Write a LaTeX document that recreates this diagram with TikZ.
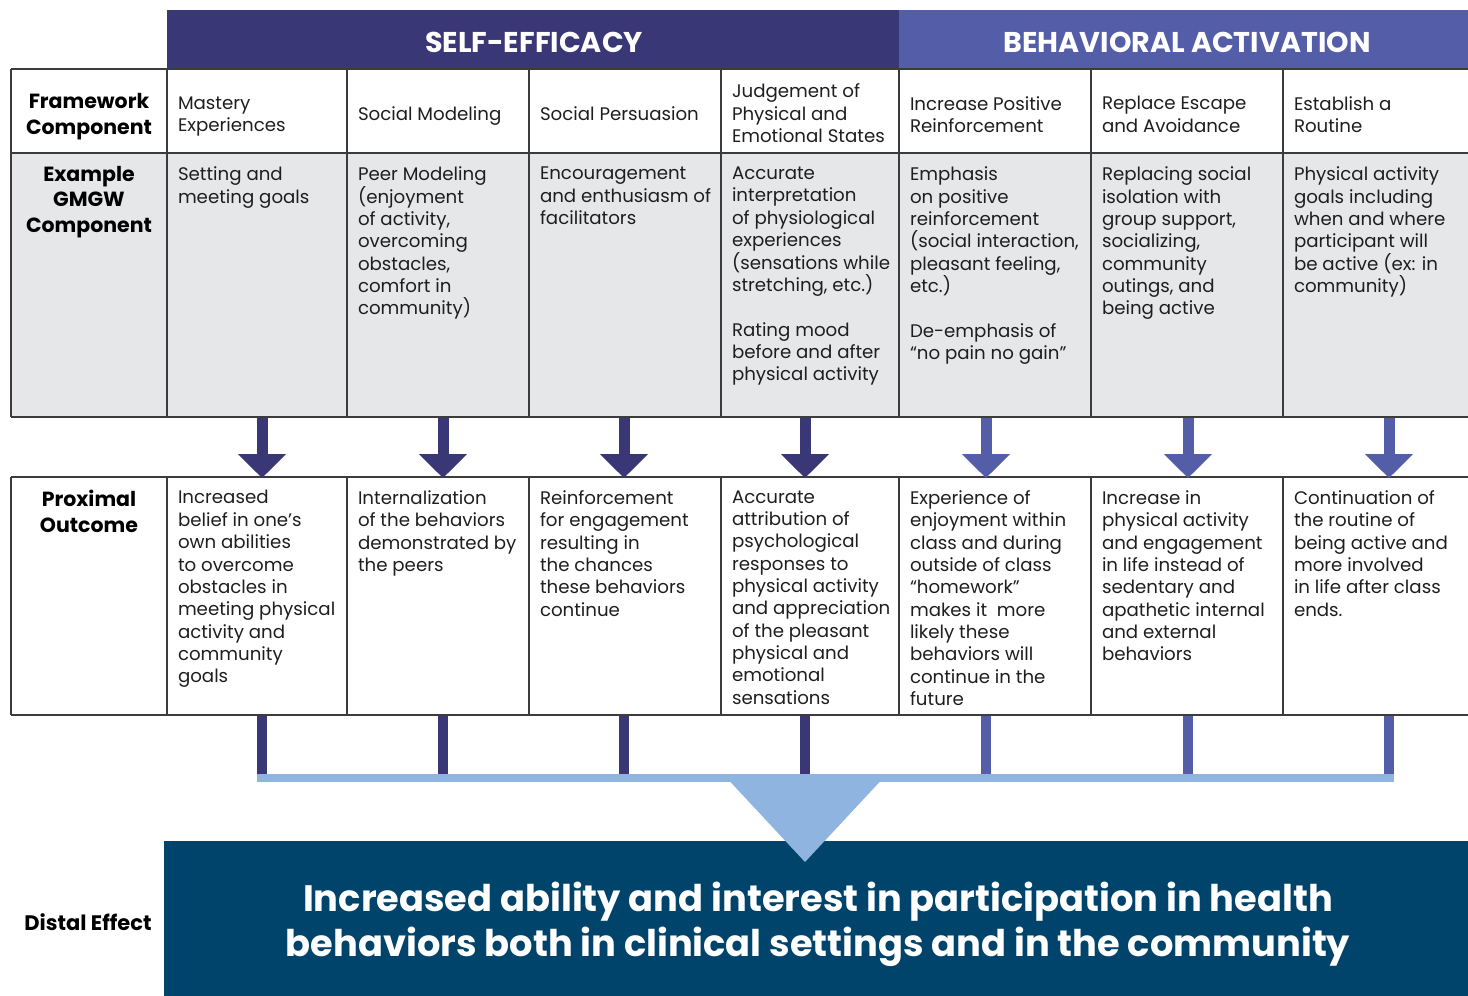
\documentclass[tikz,border=0pt]{standalone}
\usepackage{fontspec}
\setmainfont{Poppins}
\usetikzlibrary{arrows.meta}

\definecolor{sedark}{HTML}{3A3776}
\definecolor{bamid}{HTML}{535DA8}
\definecolor{cellgray}{HTML}{E6E7E8}
\definecolor{rulegray}{HTML}{3C3C3C}
\definecolor{barblue}{HTML}{8FB4E0}
\definecolor{distalnavy}{HTML}{00446B}
\definecolor{inktext}{HTML}{1E1E1E}

\newcommand{\bodyfs}{\fontsize{18.2}{22.35}\selectfont}
\newcommand{\labfs}{\fontsize{20.5}{25.5}\selectfont\bfseries}

\tikzset{
  cell/.style={anchor=north west, align=left, inner sep=0pt, outer sep=0pt,
    font=\bodyfs, text=inktext, execute at begin node={\rule{0pt}{16pt}}},
  rowlabel/.style={anchor=north, align=center, inner sep=0pt, outer sep=0pt,
    font=\labfs, text=black, execute at begin node={\rule{0pt}{18pt}}},
  headtext/.style={anchor=base, inner sep=0pt, text=white,
    font=\fontsize{28.6}{33}\selectfont\bfseries},
  hrule/.style={draw=rulegray, line width=2pt},
  vrule/.style={draw=rulegray, line width=1.5pt},
  fatarrow/.style={line width=11pt, line cap=butt,
    -{Triangle[width=47pt,length=24pt]}},
  stem/.style={line width=10pt, line cap=butt},
}

\begin{document}
\begin{tikzpicture}[x=1pt, y=-1pt]
\useasboundingbox (0,0) rectangle (1468,996);

% header bands
\fill[sedark] (167,10) rectangle (899,69);
\fill[bamid] (899,10) rectangle (1468,69);
\node[headtext] (hse) at (534,52.5) {SELF-EFFICACY};
\node[headtext] (hba) at (1187,52.5) {BEHAVIORAL ACTIVATION};

% table body
\fill[cellgray] (11,153) rectangle (1468,417);
\foreach \y in {69,153,417,477,715} \draw[hrule] (11,\y) -- (1468,\y);
\foreach \x in {11,167,347,529,721,899,1091,1283} {
  \draw[vrule] (\x,69) -- (\x,417);
  \draw[vrule] (\x,477) -- (\x,715);
}

% row labels
\node[rowlabel] (lfw) at (89,93.5) {Framework\\Component};
\node[rowlabel] (lex) at (89,166) {Example\\GMGW\\Component};
\node[rowlabel] (lpo) at (89,490.5) {Proximal\\Outcome};
\node[anchor=base, inner sep=0pt, font=\fontsize{21}{25}\selectfont\bfseries] (lde) at (88,930) {Distal Effect};

% framework components
\node[cell] (f1) at (178,96.5) {Mastery\\Experiences};
\node[cell] (f2) at (358,104) {Social Modeling};
\node[cell] (f3) at (540,104) {Social Persuasion};
\node[cell] (f4) at (732,84) {Judgement of\\Physical and\\Emotional States};
\node[cell] (f5) at (910,96.5) {Increase Positive\\Reinforcement};
\node[cell] (f6) at (1102,96.5) {Replace Escape\\and Avoidance};
\node[cell] (f7) at (1294,96.5) {Establish a\\Routine};

% example program components
\node[cell] (e1) at (178,167) {Setting and\\meeting goals};
\node[cell] (e2) at (358,167) {Peer Modeling\\(enjoyment\\of activity,\\overcoming\\obstacles,\\comfort in\\community)};
\node[cell] (e3) at (540,167) {Encouragement\\and enthusiasm of\\facilitators};
\node[cell] (e4) at (732,167) {Accurate\\interpretation\\of physiological\\experiences\\(sensations while\\stretching, etc.)\\[22.35pt]Rating mood\\before and after\\physical activity};
\node[cell] (e5) at (910,167) {Emphasis\\on positive\\reinforcement\\(social interaction,\\pleasant feeling,\\etc.)\\[22.35pt]De-emphasis of\\“no pain no gain”};
\node[cell] (e6) at (1102,167) {Replacing social\\isolation with\\group support,\\socializing,\\community\\outings, and\\being active};
\node[cell] (e7) at (1294,167) {Physical activity\\goals including\\when and where\\participant will\\be active (ex: in\\community)};

% proximal outcomes
\node[cell] (p1) at (178,490.5) {Increased\\belief in one’s\\own abilities\\to overcome\\obstacles in\\meeting physical\\activity and\\community\\goals};
\node[cell] (p2) at (358,490.5) {Internalization\\of the behaviors\\demonstrated by\\the peers};
\node[cell] (p3) at (540,490.5) {Reinforcement\\for engagement\\resulting in\\the chances\\these behaviors\\continue};
\node[cell] (p4) at (732,490.5) {Accurate\\attribution of\\psychological\\responses to\\physical activity\\and appreciation\\of the pleasant\\physical and\\emotional\\sensations};
\node[cell] (p5) at (910,490.5) {Experience of\\enjoyment within\\class and during\\outside of class\\“homework”\\makes it\ \ more\\likely these\\behaviors will\\continue in the\\future};
\node[cell] (p6) at (1102,490.5) {Increase in\\physical activity\\and engagement\\in life instead of\\sedentary and\\apathetic internal\\and external\\behaviors};
\node[cell] (p7) at (1294,490.5) {Continuation of\\the routine of\\being active and\\more involved\\in life after class\\ends.};

% arrows from program components to proximal outcomes, and stems to the collector bar
\foreach \i/\x/\c in {1/262/sedark,2/443/sedark,3/624/sedark,4/805/sedark,5/986/bamid,6/1188/bamid,7/1389/bamid} {
  \coordinate (as\i) at (\x,418);
  \coordinate (at\i) at (\x,478);
  \draw[fatarrow, draw=\c, fill=\c] (as\i) -- (at\i);
  \coordinate (bs\i) at (\x,716);
  \coordinate (bt\i) at (\x,774.5);
  \draw[stem, draw=\c] (bs\i) -- (bt\i);
}

% distal effect box
\node[fill=distalnavy, minimum width=1304pt, minimum height=155pt, anchor=north west, inner sep=0pt] (distal) at (164,841) {};
\node[anchor=north, align=center, inner sep=0pt, text=white,
  font=\fontsize{36.8}{45}\selectfont\bfseries,
  execute at begin node={\rule{0pt}{33pt}}] (dtext) at (818,882)
  {Increased ability and interest in participation in health\\behaviors both in clinical settings and in the community};

% collector bar and funnel into the distal effect
\coordinate (cl) at (257,778);
\coordinate (cr) at (1394,778);
\draw[barblue, line width=7.5pt, line cap=butt] (cl) -- (cr);
\coordinate (ftip) at (805,862);
\fill[barblue] (730,781.5) -- (880,781.5) -- (ftip) -- cycle;
\end{tikzpicture}
\end{document}
